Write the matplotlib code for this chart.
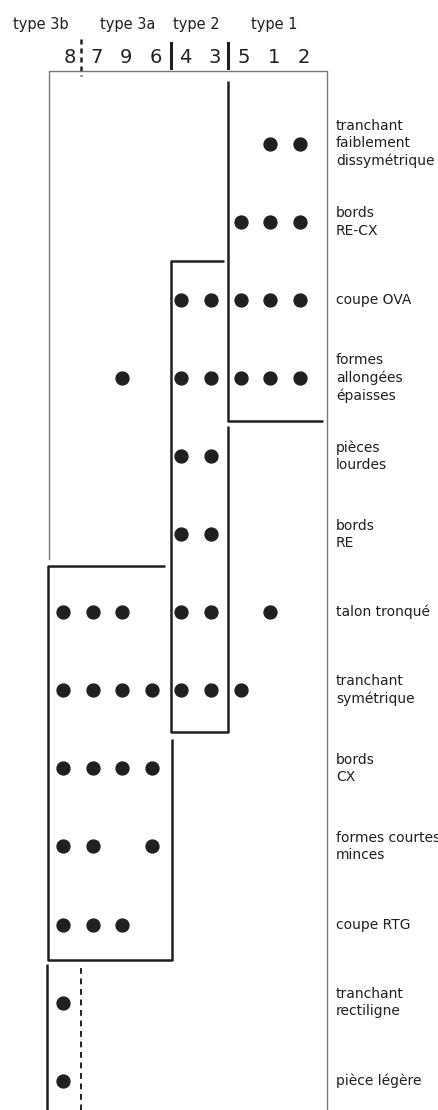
import numpy as np
from matplotlib import pyplot as plt

# columns (pieces) in display order, and their type groups
columns = ["8", "7", "9", "6", "4", "3", "5", "1", "2"]
group_names = ["type 3b", "type 3a", "type 2", "type 1"]
group_cols = [[0], [1, 2, 3], [4, 5], [6, 7, 8]]

row_labels = [
    "tranchant\nfaiblement\ndissymétrique",
    "bords\nRE-CX",
    "coupe OVA",
    "formes\nallongées\népaisses",
    "pièces\nlourdes",
    "bords\nRE",
    "talon tronqué",
    "tranchant\nsymétrique",
    "bords\nCX",
    "formes courtes\nminces",
    "coupe RTG",
    "tranchant\nrectiligne",
    "pièce légère",
]

# presence of each criterion (rows) for each piece (columns)
presence = [
    [0, 0, 0, 0, 0, 0, 0, 1, 1],
    [0, 0, 0, 0, 0, 0, 1, 1, 1],
    [0, 0, 0, 0, 1, 1, 1, 1, 1],
    [0, 0, 1, 0, 1, 1, 1, 1, 1],
    [0, 0, 0, 0, 1, 1, 0, 0, 0],
    [0, 0, 0, 0, 1, 1, 0, 0, 0],
    [1, 1, 1, 0, 1, 1, 0, 1, 0],
    [1, 1, 1, 1, 1, 1, 1, 0, 0],
    [1, 1, 1, 1, 0, 0, 0, 0, 0],
    [1, 1, 0, 1, 0, 0, 0, 0, 0],
    [1, 1, 1, 0, 0, 0, 0, 0, 0],
    [1, 0, 0, 0, 0, 0, 0, 0, 0],
    [1, 0, 0, 0, 0, 0, 0, 0, 0],
]

INK = "#231f20"
FONT = "DejaVu Sans"

fig = plt.figure(figsize=(4.39, 11.10), dpi=100)
ax = fig.add_axes([0, 0, 1, 1])
ax.axis("off")
ax.set_xlim(-2.128, 12.703)
ax.set_ylim(12.376, -1.842)

pres = np.array(presence)
rr, cc = np.nonzero(pres)
ax.plot(cc, rr, "o", color=INK, markersize=9.3, linestyle="none")

nrows = len(row_labels)
ncols = len(columns)

# criterion labels on the right
for r, lab in enumerate(row_labels):
    ax.text(9.22, r, lab, ha="left", va="center", fontsize=10, color=INK,
            family=FONT, linespacing=1.3)

# column numbers and type headers
for c, lab in enumerate(columns):
    dx = 0.22 if c == 0 else 0.12
    ax.text(c + dx, -1.035, lab, ha="center", va="baseline", fontsize=14,
            color=INK, family=FONT)
for name, cols in zip(group_names, group_cols):
    cx = np.mean(cols)
    if len(cols) == 1:
        cx -= 0.74
    elif cols[0] == 1:
        cx += 0.2
    elif cols[0] == 6:
        cx += 0.13
    ax.text(cx, -1.47, name, ha="center", va="baseline", fontsize=10.5,
            color=INK, family=FONT)

# header separators
ax.plot([0.61, 0.61], [-1.34, -0.87], color=INK, lw=1.8, ls=(0, (2, 1.6)))
ax.plot([3.64, 3.64], [-1.29, -0.97], color=INK, lw=2.2)
ax.plot([5.57, 5.57], [-1.29, -0.97], color=INK, lw=2.2)

# thin outer frame (open at the bottom left)
ax.plot([-0.47, -0.47, ncols - 0.08, ncols - 0.08],
        [5.32, -0.93, -0.93, nrows - 0.45], color="#7a7a7a", lw=1.0)

thick = dict(color=INK, lw=1.8, solid_capstyle="butt")
# type 1 block
ax.plot([5.57, 5.57, 8.78], [-0.8, 3.55, 3.55], **thick)
# type 2 block
ax.plot([5.44, 3.65, 3.65, 5.57, 5.57], [1.5, 1.5, 7.54, 7.54, 3.62], **thick)
# type 3a block
ax.plot([3.45, -0.51, -0.51, 3.68, 3.68], [5.41, 5.41, 10.45, 10.45, 7.62], **thick)
# type 3b block
ax.plot([-0.54, -0.54], [10.5, nrows - 0.6], **thick)
ax.plot([0.61, 0.61], [10.56, nrows - 0.62], color=INK, lw=1.4,
        ls=(0, (3, 2.4)))

fig.savefig("out.png", dpi=100)
